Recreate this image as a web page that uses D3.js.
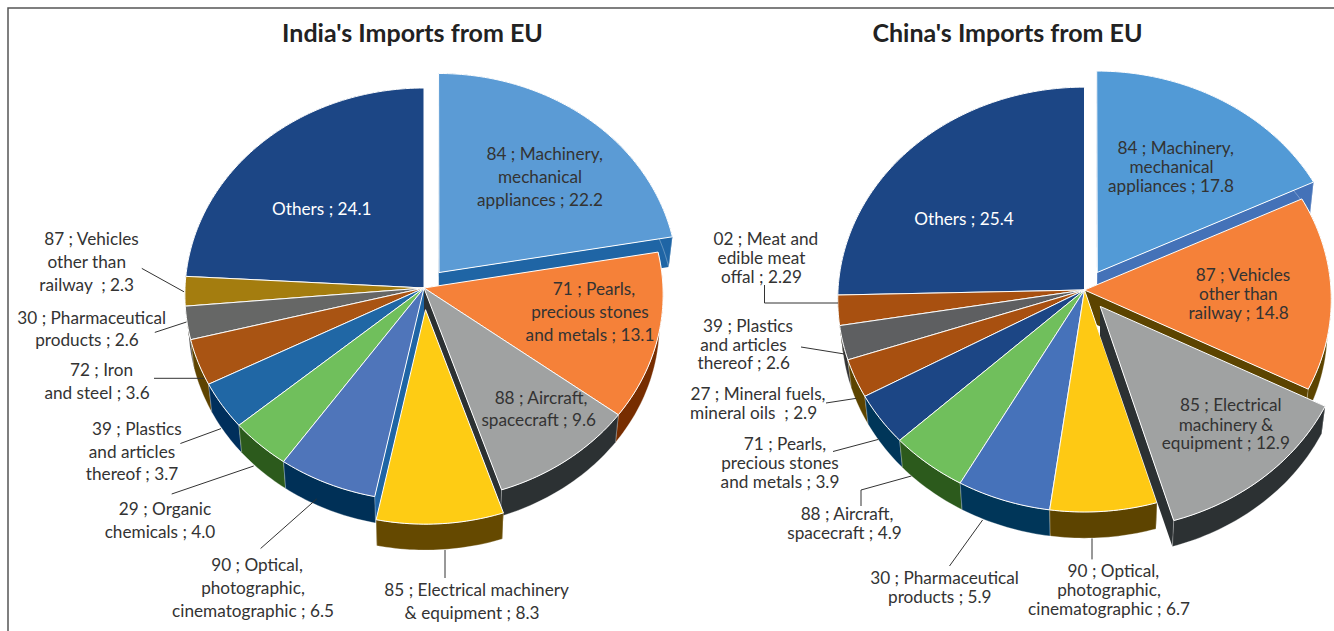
<!DOCTYPE html>
<html><head><meta charset="utf-8">
<script src="https://cdn.jsdelivr.net/npm/d3@7"></script>
<style>html,body{margin:0;padding:0;background:#fff;overflow:hidden}svg{display:block}text{font-family:Lato,"Open Sans",sans-serif}</style>
</head><body><svg id="c" width="1334" height="631"></svg>
<script>
// ---------- data ----------
const indiaTitle = "India's Imports from EU";
const indiaCodes = ["84","71","88","85","90","29","39","72","30","87","Others"];
const indiaValues = [22.2,13.1,9.6,8.3,6.5,4.0,3.7,3.6,2.6,2.3,24.1];
const indiaLabels = [
 ["84 ; Machinery,","mechanical","appliances ; 22.2"],
 ["71 ; Pearls,","precious stones","and metals ; 13.1"],
 ["88 ; Aircraft,","spacecraft ; 9.6"],
 ["85 ; Electrical machinery","& equipment ; 8.3"],
 ["90 ; Optical,","photographic,","cinematographic ; 6.5"],
 ["29 ; Organic","chemicals ; 4.0"],
 ["39 ; Plastics","and articles","thereof ; 3.7"],
 ["72 ; Iron","and steel ; 3.6"],
 ["30 ; Pharmaceutical","products ; 2.6"],
 ["87 ; Vehicles","other than","railway  ; 2.3"],
 ["Others ; 24.1"]];
const chinaTitle = "China's Imports from EU";
const chinaCodes = ["84","87","85","90","30","88","71","27","39","02","Others"];
const chinaValues = [17.8,14.8,12.9,6.7,5.9,4.9,3.9,2.9,2.6,2.29,25.4];
const chinaLabels = [
 ["84 ; Machinery,","mechanical","appliances ; 17.8"],
 ["87 ; Vehicles","other than","railway ; 14.8"],
 ["85 ; Electrical","machinery &","equipment ; 12.9"],
 ["90 ; Optical,","photographic,","cinematographic ; 6.7"],
 ["30 ; Pharmaceutical","products ; 5.9"],
 ["88 ; Aircraft,","spacecraft ; 4.9"],
 ["71 ; Pearls,","precious stones","and metals ; 3.9"],
 ["27 ; Mineral fuels,","mineral oils  ; 2.9"],
 ["39 ; Plastics","and articles","thereof ; 2.6"],
 ["02 ; Meat and","edible meat","offal ; 2.29"],
 ["Others ; 25.4"]];

// ---------- style ----------
const indiaTop   = ["#5b9bd5","#f58139","#a0a2a2","#fecc14","#4f75ba","#70bf5c","#2067a5","#a95413","#666766","#a47d0f","#1c4685"];
const indiaOuter = ["#1f65a5","#772d00","#2c3133","#654900","#003057","#2c5a1c","#002f5c","#5e4300","#3a3a3a","#5e4300","#0c2a55"];
const indiaSide  = ["#1f65a5","#772d00","#2c3133","#654900","#1f65a5","#2c5a1c","#002f5c","#5e4300","#3a3a3a","#5e4300","#0c2a55"];
const chinaTop   = ["#529ad6","#f58139","#a0a2a2","#fec914","#4672ba","#70bf5c","#1c4685","#a85010","#5e5f61","#a85010","#1c4685"];
const chinaOuter = ["#4472b8","#5c4400","#2c3133","#5d4400","#003659","#2c5a1c","#003659","#5c4400","#333333","#5c4400","#0c2a55"];
const chinaSide  = chinaOuter;

// ---------- layout ----------
const indiaGeo = {cx:424, cy:288, S:239, T:206.3, k:0.0315, titleX:412.5};
const chinaGeo = {cx:1084.5, cy:290, S:246.5, T:212, k:0.045, titleX:1007.5};
const depth = 29.5, shrink = 0.985;
const indiaExplode = {"84":0.098,"85":0.105};
const chinaExplode = {"84":0.098,"85":0.1};
const indiaOrder = ["Others","84","71","87","30","72","39","29","90","88","85"];
const chinaOrder = ["Others","84","87","02","39","27","71","88","30","90","85"];
const indiaLabelX = [[544.7,540,540],[594,590,590],[541,538.7],[476.6,472],[257,253,253],[165,160],[136.8,132,132],[101.5,97],[91.7,87],[91.5,86.7,86.7],[321.8]];
const indiaLabelY = [[154,177,200],[289,312,335],[397.6,420],[590,613],[565,588,611],[509,531.6],[428.6,451.5,474],[370,393],[317.5,340],[239,262,285],[209]];
const chinaLabelX = [[1175.7,1171.5,1171],[1243,1238.4,1238.6],[1230.8,1226,1225.8],[1113.4,1109,1109],[944.5,939.8],[847,844.5],[785,780,780],[758,753.6],[748,743.5,743.7],[765.8,761.5,761.5],[964]];
const chinaLabelY = [[147.7,166.6,185.5],[275,294,312.7],[405,424.5,443],[571.4,590,609],[578,597],[514,533],[444,463,481.7],[394,413],[326,344.5,363.4],[239,258,277],[219]];
const indiaLeaders = [
 [[141.8,268.4],[184,291.8]],[[154.8,332.4],[186.5,322]],[[154,378.3],[204,378.3]],
 [[180.4,443.5],[221,428.6]],[[171.7,494],[253.7,466]],[[260.6,548.5],[316.6,499]],[[445,550],[445,578]]];
const chinaLeaders = [
 [[764.5,285],[764.5,303],[838,303]],[[801,347],[844.5,354]],[[826,403],[856,398.4]],
 [[833,451.5],[878.4,439.4]],[[861,506],[861,490],[911.4,476]],[[949.5,566],[982.6,520]],[[1092,538.4],[1092,559.4]]];

const svg = d3.select("#c");
svg.append("path").attr("d","M8,631V8H1334").attr("fill","none").attr("stroke","#555").attr("stroke-width",1.5);

const lineGen = d3.line();
function drawPie(cfg){
  const g = cfg.geo, arcs = d3.pie().sort(null).startAngle(0).endAngle(2*Math.PI)(cfg.values);
  const root = svg.append("g");
  function P(a, r, e, mid, low){
    const u = r*Math.sin(a)+e*Math.sin(mid), v = r*Math.cos(a)+e*Math.cos(mid), w = 1+g.k*v;
    const f = low?shrink:1;
    return [g.cx + g.S*u/w*f, g.cy - g.T*v/w*f + (low?depth:0)];
  }
  cfg.order.forEach(code=>{
    const i = cfg.codes.indexOf(code), d = arcs[i], mid=(d.startAngle+d.endAngle)/2, e = cfg.explode[code]||0;
    const steps = Math.max(8,Math.ceil((d.endAngle-d.startAngle)/0.02));
    const as = d3.range(steps+1).map(j=>d.startAngle+(d.endAngle-d.startAngle)*j/steps);
    const s = root.append("g");
    [d.startAngle,d.endAngle].forEach(a=>{
      s.append("path").attr("d",lineGen([P(0,0,e,mid,false),P(a,1,e,mid,false),P(a,1,e,mid,true),P(0,0,e,mid,true)])+"Z")
       .attr("fill",cfg.side[i]);
    });
    const wall = as.map(a=>P(a,1,e,mid,false)).concat(as.slice().reverse().map(a=>P(a,1,e,mid,true)));
    s.append("path").attr("d",lineGen(wall)+"Z").attr("fill",cfg.outer[i]).attr("stroke","#fff").attr("stroke-opacity",0.5).attr("stroke-width",0.6);
    const top = [P(0,0,e,mid,false)].concat(as.map(a=>P(a,1,e,mid,false)));
    s.append("path").attr("d",lineGen(top)+"Z").attr("fill",cfg.top[i]).attr("stroke","#fff").attr("stroke-width",1).attr("stroke-linejoin","round");
  });
  cfg.leaders.forEach(l=>root.append("path").attr("d",lineGen(l)).attr("fill","none").attr("stroke","#333").attr("stroke-width",1));
  cfg.labels.forEach((lines,i)=>lines.forEach((t,j)=>{
    root.append("text").attr("x",cfg.lx[i][j]).attr("y",cfg.ly[i][j]).attr("dy","0.35em").attr("text-anchor","middle")
      .attr("font-size",17.2).attr("fill",cfg.codes[i]==="Others"?"#fff":"#333").style("white-space","pre").text(t);
  }));
  root.append("text").attr("x",g.titleX).attr("y",33).attr("dy","0.35em").attr("text-anchor","middle")
    .attr("font-size",25).attr("font-weight",700).attr("fill","#222").text(cfg.title);
}
drawPie({geo:indiaGeo,title:indiaTitle,codes:indiaCodes,values:indiaValues,labels:indiaLabels,top:indiaTop,outer:indiaOuter,side:indiaSide,explode:indiaExplode,order:indiaOrder,lx:indiaLabelX,ly:indiaLabelY,leaders:indiaLeaders});
drawPie({geo:chinaGeo,title:chinaTitle,codes:chinaCodes,values:chinaValues,labels:chinaLabels,top:chinaTop,outer:chinaOuter,side:chinaSide,explode:chinaExplode,order:chinaOrder,lx:chinaLabelX,ly:chinaLabelY,leaders:chinaLeaders});
</script></body></html>
